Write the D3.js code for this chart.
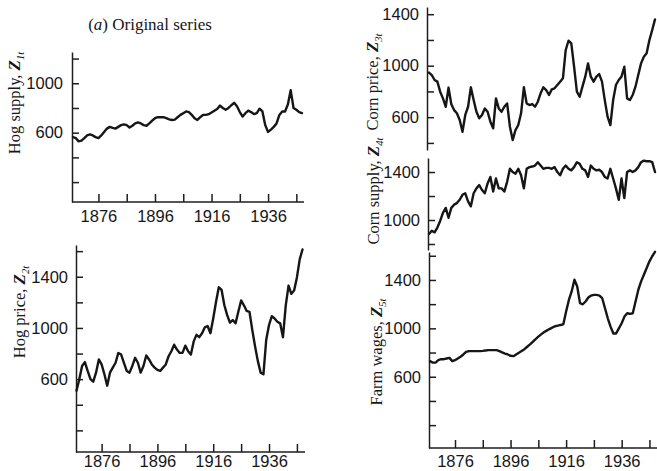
<!DOCTYPE html>
<html>
<head>
<meta charset="utf-8">
<script src="https://cdn.jsdelivr.net/npm/d3@7"></script>
<style>
html,body{margin:0;padding:0;background:#fff;}
svg{display:block;font-family:"Liberation Serif","DejaVu Serif",serif;}
text{fill:#161616;}
.axis path,.axis line{stroke:#1e1e1e;stroke-width:1.5;}
.series{fill:none;stroke:#161616;stroke-width:2.4;stroke-linejoin:round;stroke-linecap:round;}
</style>
</head>
<body>
<svg id="fig" width="657" height="471"></svg>
<script>
/* Quenouille hog series, 1867-1948, original (coded) values */
var firstYear=1867, lastYear=1948;
var years=d3.range(firstYear,lastYear+1);

var hogSupply=[564,556,530,536,556,578,586,578,564,556,
    578,605,633,647,639,633,647,661,667,661,
    642,656,675,683,675,661,656,675,697,717,
    725,725,725,717,708,703,706,725,744,758,
    772,767,744,717,703,725,744,744,750,764,
    778,792,819,800,786,800,822,842,814,767,
    731,758,778,767,750,758,794,772,661,606,
    625,647,675,744,772,772,828,944,800,786,
    767,758];
var hogPrice=[510,600,703,733,664,600,580,651,754,715,
    638,549,651,690,728,805,792,728,664,651,
    703,767,728,651,703,785,754,715,690,672,
    664,690,715,779,818,869,831,805,805,862,
    818,792,895,946,928,959,1005,1015,959,1074,
    1203,1318,1297,1177,1100,1041,1062,1036,1126,1215,
    1177,1133,1126,985,856,741,651,638,908,1023,
    1092,1074,1049,1036,928,1177,1331,1267,1292,1395,
    1536,1613];
var cornPrice=[946,927,889,876,798,746,681,830,700,655,
    630,578,487,617,681,832,733,642,591,617,
    668,642,565,513,746,668,642,681,707,526,
    422,500,539,630,832,707,694,702,681,720,
    785,832,811,772,816,824,850,876,902,1122,
    1194,1174,992,798,759,837,915,1018,915,876,
    915,935,876,733,604,539,733,850,889,915,
    992,746,733,772,837,927,1018,1070,1096,1199,
    1277,1360];
var cornSupply=[883,910,897,937,992,1060,1101,1019,1101,1128,
    1141,1169,1210,1223,1155,1114,1223,1264,1291,1250,
    1223,1305,1359,1237,1346,1264,1264,1237,1318,1427,
    1400,1386,1427,1373,1264,1427,1441,1446,1454,1482,
    1454,1427,1435,1435,1427,1441,1400,1373,1427,1454,
    1427,1414,1441,1482,1468,1427,1414,1359,1454,1427,
    1414,1419,1400,1359,1346,1427,1346,1264,1169,1346,
    1183,1400,1414,1400,1414,1441,1482,1495,1490,1490,
    1482,1400];
var farmWages=[729,717,717,737,745,745,751,756,729,737,
    751,765,784,806,812,812,812,812,812,814,
    817,820,820,820,820,812,801,792,784,773,
    770,784,798,812,828,848,867,889,911,931,
    950,967,981,994,1006,1017,1022,1028,1033,1139,
    1235,1305,1402,1346,1208,1199,1222,1255,1271,1277,
    1277,1271,1249,1166,1083,1014,958,958,1000,1042,
    1097,1125,1119,1125,1222,1319,1388,1443,1499,1554,
    1596,1632];

var yearTicks=[1876,1886,1896,1906,1916,1926,1936,1946];
var yearLabels=[1876,1896,1916,1936];
var ticks1200=[200,400,600,800,1000,1200];
var ticks1600=[200,400,600,800,1000,1200,1400,1600];
var ticksCornPrice=[400,600,800,1000,1200,1400];
var ticksCornSupply=[800,1000,1200,1400];
var labels2=[600,1000];
var labels3=[600,1000,1400];
var labelsCornSupply=[1000,1400];

var titleText=") Original series";

var svg=d3.select("#fig");
var FS=16.5;

var panels=[
  {data:hogSupply, name:"Hog supply, ", sub:"1t", ax:72, xr:[73,302], xEnd:304,
   yd:[39,1253], yr:[202,52], ticks:ticks1200, labels:labels2, xAxis:true, xPad:7.8, yPad:9, lab:[20,103]},
  {data:hogPrice, name:"Hog price, ", sub:"2t", ax:76, xr:[76.5,302.5], xEnd:305,
   yd:[31,1648], yr:[452,245], ticks:ticks1600, labels:labels3, xAxis:true, xPad:3.5, yPad:8, lab:[25,312]},
  {data:cornPrice, name:"Corn price, ", sub:"3t", ax:427, xr:[429,655], xEnd:657,
   yd:[345,1456], yr:[150,7], ticks:ticksCornPrice, labels:labels3, xAxis:false, yPad:8, lab:[378,82]},
  {data:cornSupply, name:"Corn supply, ", sub:"4t", ax:428, xr:[429,655], xEnd:657,
   yd:[750,1517], yr:[250,158], ticks:ticksCornSupply, labels:labelsCornSupply, xAxis:false, yPad:8, lab:[379,191]},
  {data:farmWages, name:"Farm wages, ", sub:"5t", ax:429, xr:[430,655], xEnd:657,
   yd:[11,1631], yr:[448,252], ticks:ticks1600, labels:labels3, xAxis:true, xPad:6.8, yPad:8, lab:[382,352]}
];

panels.forEach(function(p){
    var x=d3.scaleLinear().domain([firstYear,lastYear]).range(p.xr);
    var y=d3.scaleLinear().domain(p.yd).range(p.yr);
    var g=svg.append("g");

    // y axis: ticks pointing inward (right), labels on the left
    var ya=g.append("g").attr("class","axis").attr("transform","translate("+p.ax+",0)")
        .call(d3.axisLeft(y).tickValues(p.ticks).tickSizeInner(-7).tickSizeOuter(0).tickPadding(p.yPad)
            .tickFormat(function(d){return p.labels.indexOf(d)>=0?d:"";}));
    ya.selectAll("text").style("font-size",FS+"px").style("font-family",null);

    if(p.xAxis){
        var base=p.yr[0];
        var xa=g.append("g").attr("class","axis").attr("transform","translate(0,"+base+")")
            .call(d3.axisBottom(x).tickValues(yearTicks).tickSizeInner(-8).tickSizeOuter(0).tickPadding(p.xPad)
                .tickFormat(function(d){return yearLabels.indexOf(d)>=0?d:"";}));
        xa.select(".domain").remove();
        xa.append("line").attr("x1",p.ax).attr("x2",p.xEnd).attr("y1",0).attr("y2",0);
        xa.selectAll("text").style("font-size",FS+"px").style("font-family",null);
    }

    var line=d3.line().x(function(d,i){return x(years[i]);}).y(function(d){return y(d);});
    g.append("path").datum(p.data).attr("class","series").attr("d",line);

    var t=g.append("text").attr("transform","translate("+p.lab[0]+","+p.lab[1]+") rotate(-90)")
        .attr("text-anchor","middle").style("font-size",FS+"px");
    t.append("tspan").text(p.name);
    t.append("tspan").style("font-style","italic").style("font-weight","bold").style("font-size","17px").text("Z");
    t.append("tspan").attr("dy",4).style("font-style","italic").style("font-size","10.5px").text(p.sub);
});

var title=svg.append("text").attr("x",150).attr("y",30).attr("text-anchor","middle").style("font-size","17px");
title.append("tspan").text("(");
title.append("tspan").style("font-style","italic").text("a");
title.append("tspan").text(titleText);
</script>
</body>
</html>
